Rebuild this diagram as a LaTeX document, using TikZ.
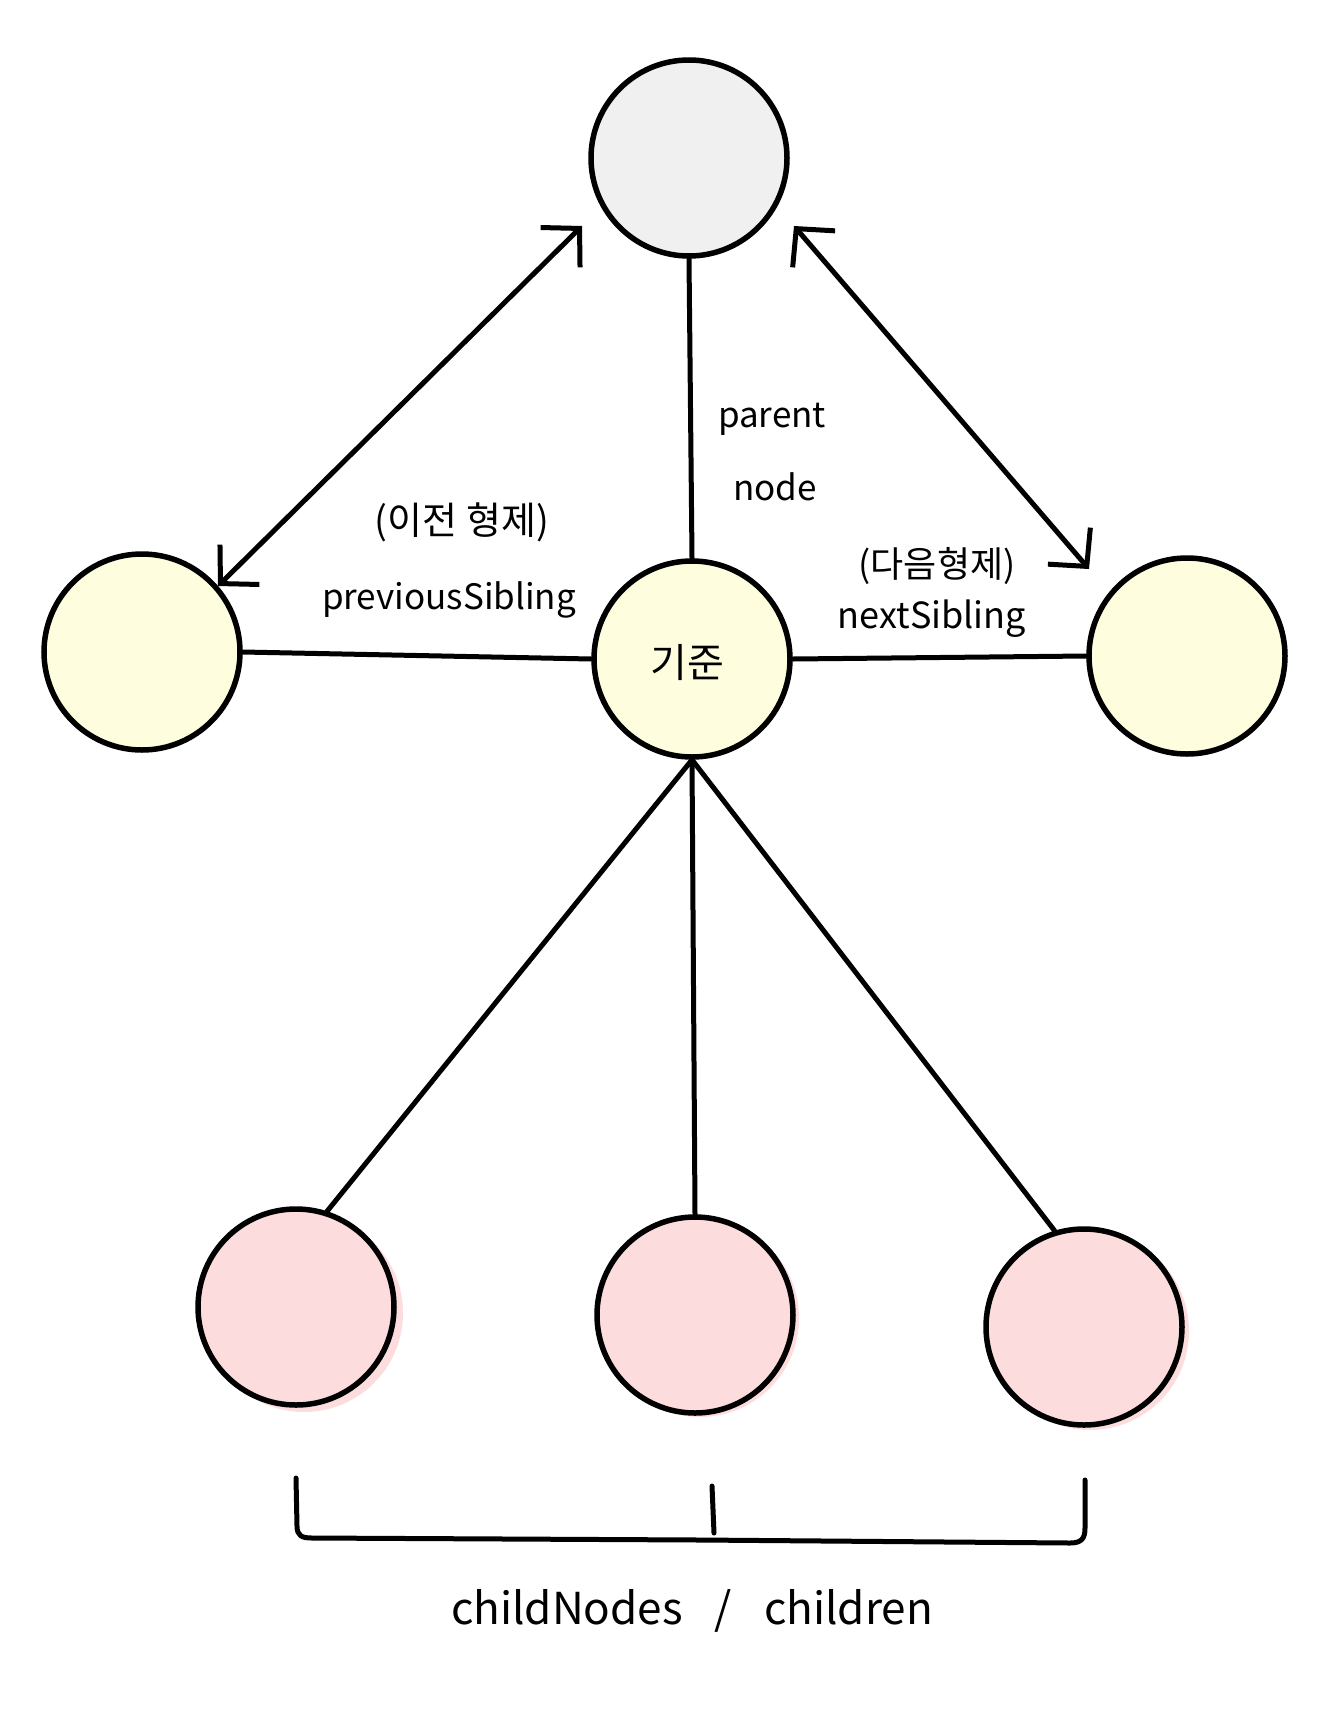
\documentclass[tikz,border=0pt]{standalone}
\usepackage{fontspec}
\setmainfont{Noto Sans CJK KR}
\usetikzlibrary{arrows.meta}
\definecolor{topfill}{HTML}{F0F0F0}
\definecolor{sibfill}{HTML}{FEFEDF}
\definecolor{kidfill}{HTML}{FDDCDD}
\begin{document}
\begin{tikzpicture}[x=1pt,y=-1pt,
  dnode/.style={circle,draw=black,line width=5.5pt,minimum size=196pt,inner sep=0pt},
  blob/.style={circle,fill=kidfill,minimum size=198pt,inner sep=0pt,draw=none},
  link/.style={line width=5pt,line cap=round},
  biarrow/.style={line width=5pt,line cap=round,line join=round,
     {Straight Barb[length=27pt,width=56pt,line width=5pt]}-{Straight Barb[length=27pt,width=56pt,line width=5pt]}},
  lbl/.style={font=\fontsize{35}{40}\selectfont,inner sep=0pt},
  klbl/.style={font=\fontsize{38}{44}\selectfont,inner sep=0pt}]
\useasboundingbox (0,0) rectangle (1340,1713);
\fill[white] (0,0) rectangle (1340,1713);
% pink blobs behind children
\node[blob] (b1) at (304,1313) {};
\node[blob] (b2) at (700,1318) {};
\node[blob] (b3) at (1090,1331) {};
% nodes
\node[dnode,fill=topfill] (top) at (689,158) {};
\node[dnode,fill=sibfill] (prev) at (142,652) {};
\node[dnode,fill=sibfill] (base) at (692,659) {};
\node[dnode,fill=sibfill] (next) at (1187,656) {};
\node[dnode,fill=kidfill] (c1) at (296,1307) {};
\node[dnode,fill=kidfill] (c2) at (695,1315) {};
\node[dnode,fill=kidfill] (c3) at (1084,1327) {};
% connectors
\draw[link] (base.north) -- (top.south);
\draw[link] (prev.east) -- (base.west);
\draw[link] (base.east) -- (next.west);
\draw[link] (base.south) -- (c1.72);
\draw[link] (base.south) -- (c2.north);
\draw[link] (base.south) -- (c3.107);
% sibling arrows
\coordinate (pa) at (582,226);
\coordinate (pb) at (218,586);
\coordinate (na) at (794,226);
\coordinate (nb) at (1089,569);
\draw[biarrow] (pa) -- (pb);
\draw[biarrow] (na) -- (nb);
% labels
\node[klbl] (lprevk) at (462,522) {(이전 형제)};
\node[lbl] (lprev) at (449,600) {previousSibling};
\node[lbl] (lpar1) at (772,419) {parent};
\node[lbl] (lpar2) at (775,487) {node};
\node[klbl,font=\fontsize{36}{42}\selectfont] (lnextk) at (937,566) {(다음형제)};
\node[lbl,font=\fontsize{36}{42}\selectfont] (lnext) at (932,619) {nextSibling};
\node[klbl,font=\fontsize{40}{46}\selectfont] (lbase) at (687,663) {기준};
% brace
\coordinate (br1) at (296,1478);
\coordinate (br2) at (1085,1480);
\coordinate (brm) at (712,1486);
\draw[link,line join=round] (br1) -- (297,1526) .. controls (297,1536) and (302,1538) .. (312,1538)
   -- (700,1540) -- (1070,1543) .. controls (1082,1543) and (1085,1538) .. (1085,1528) -- (br2);
\draw[link] (brm) -- (714,1533);
\node[inner sep=0pt,font=\fontsize{44}{50}\selectfont] (lkids) at (692,1611) {childNodes\hspace{32pt}/\hspace{32pt}children};
\end{tikzpicture}
\end{document}
